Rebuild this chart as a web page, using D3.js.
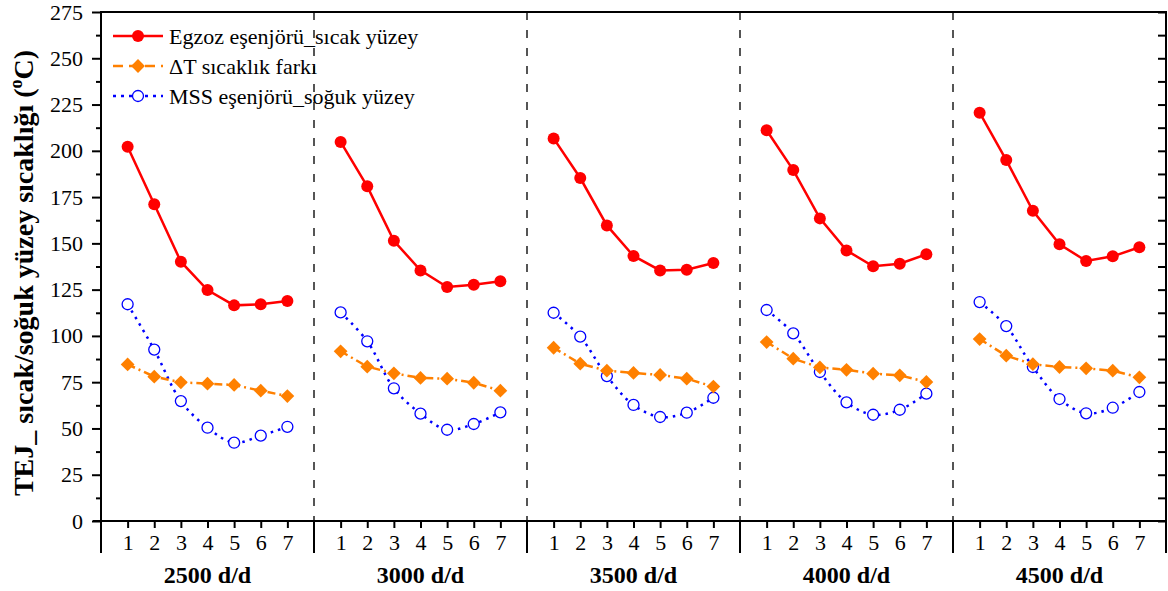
<!DOCTYPE html>
<html>
<head>
<meta charset="utf-8">
<script src="https://cdn.jsdelivr.net/npm/d3@7"></script>
<style>
  body { margin: 0; background: #fff; }
  svg { display: block; }
  text { font-family: "Times New Roman", "Liberation Serif", serif; }
</style>
</head>
<body>
<svg id="chart" width="1168" height="591"></svg>
<script>
// ---- data ----
const groups = ["2500 d/d", "3000 d/d", "3500 d/d", "4000 d/d", "4500 d/d"];
const points = [1, 2, 3, 4, 5, 6, 7];
const seriesNames = ["Egzoz eşenjörü_sıcak yüzey", "ΔT sıcaklık farkı", "MSS eşenjörü_soğuk yüzey"];
const hotSurface = [
  [202.2, 171.1, 140.1, 124.8, 116.5, 117.1, 118.9],
  [204.8, 180.8, 151.4, 135.4, 126.4, 127.7, 129.5],
  [206.7, 185.3, 159.7, 143.2, 135.4, 135.8, 139.4],
  [211.1, 189.6, 163.5, 146.2, 137.6, 139.0, 144.1],
  [220.6, 195.0, 167.6, 149.5, 140.5, 143.0, 147.9]
];
const deltaT = [
  [84.6, 78.0, 74.9, 74.2, 73.5, 70.4, 67.5],
  [91.7, 83.4, 79.8, 77.3, 76.9, 74.7, 70.4],
  [93.6, 85.0, 81.2, 80.0, 78.9, 76.9, 72.6],
  [96.7, 87.7, 83.0, 81.7, 79.6, 78.7, 75.1],
  [98.3, 89.3, 84.7, 83.2, 82.5, 81.2, 77.6]
];
const coldSurface = [
  [117.1, 92.6, 64.8, 50.4, 42.3, 46.1, 50.9],
  [112.7, 97.1, 71.7, 58.0, 49.3, 52.4, 58.7],
  [112.5, 99.6, 78.3, 62.7, 56.2, 58.5, 66.6],
  [114.0, 101.4, 80.5, 64.1, 57.4, 60.1, 68.8],
  [118.3, 105.3, 83.2, 65.9, 58.2, 61.2, 69.7]
];
const yTicks = [0, 25, 50, 75, 100, 125, 150, 175, 200, 225, 250, 275];
const yTitle = "TEJ_ sıcak/soğuk yüzey sıcaklığı (";

// ---- layout ----
const svg = d3.select("#chart");
const pLeft = 101, pRight = 1166, pTop = 12, pBottom = 521, pBelow = 553;
const slots = points.length + 1;
const x = d3.scaleLinear().domain([0, groups.length * slots]).range([pLeft, pRight]);
const y = d3.scaleLinear().domain([0, 275]).range([pBottom, pTop]);
const pos = (g, i) => g * slots + points[i];

// group dividers
for (let g = 1; g < groups.length; g++) {
  const gx = x(g * slots);
  svg.append("line").attr("x1", gx).attr("x2", gx).attr("y1", pTop).attr("y2", pBottom)
    .attr("stroke", "#555").attr("stroke-width", 2).attr("stroke-dasharray", "8,10");
  svg.append("line").attr("x1", gx).attr("x2", gx).attr("y1", pBottom).attr("y2", pBelow)
    .attr("stroke", "#000").attr("stroke-width", 2);
}

// frame
svg.append("line").attr("x1", pLeft).attr("x2", pRight).attr("y1", pTop).attr("y2", pTop).attr("stroke", "#000").attr("stroke-width", 2);
svg.append("line").attr("x1", pLeft).attr("x2", pLeft).attr("y1", pTop - 1).attr("y2", pBelow).attr("stroke", "#000").attr("stroke-width", 2);
svg.append("line").attr("x1", pRight).attr("x2", pRight).attr("y1", pTop - 1).attr("y2", pBelow).attr("stroke", "#000").attr("stroke-width", 2);
svg.append("line").attr("x1", pLeft - 8).attr("x2", pRight).attr("y1", pBottom).attr("y2", pBottom).attr("stroke", "#000").attr("stroke-width", 2);

// y axis (left)
const minorVals = d3.range(12.5, 275, 25);
const yAx = svg.append("g").attr("transform", `translate(${pLeft},0)`)
  .call(d3.axisLeft(y).tickValues(yTicks).tickSize(9).tickPadding(9));
yAx.select(".domain").remove();
yAx.selectAll("line").attr("stroke-width", 2);
yAx.selectAll("text").attr("font-size", 22).attr("font-family", "Times New Roman, Liberation Serif, serif").attr("fill", "#000");
const yMin = svg.append("g").attr("transform", `translate(${pLeft},0)`)
  .call(d3.axisLeft(y).tickValues(minorVals).tickSize(5).tickFormat(""));
yMin.select(".domain").remove();
yMin.selectAll("line").attr("stroke-width", 2);

// y axis (right, inward ticks)
const yR = svg.append("g").attr("transform", `translate(${pRight},0)`)
  .call(d3.axisLeft(y).tickValues(yTicks.concat(minorVals)).tickSize(8).tickFormat(""));
yR.select(".domain").remove();
yR.selectAll("line").attr("stroke-width", 2);

// x axis ticks
const xVals = [];
groups.forEach((gname, g) => points.forEach((p, i) => xVals.push(pos(g, i))));
const xAx = svg.append("g").attr("transform", `translate(0,${pBottom})`)
  .call(d3.axisBottom(x).tickValues(xVals).tickSize(7).tickPadding(6)
    .tickFormat(v => String(v % slots)));
xAx.select(".domain").remove();
xAx.selectAll("line").attr("stroke-width", 2);
xAx.selectAll("text").attr("font-size", 22).attr("font-family", "Times New Roman, Liberation Serif, serif").attr("fill", "#000");

// group labels
svg.selectAll(".glabel").data(groups).enter().append("text")
  .attr("x", (d, g) => x(g * slots + slots / 2))
  .attr("y", 583)
  .attr("text-anchor", "middle")
  .attr("font-size", 24).attr("font-weight", "bold")
  .text(d => d);

// y title
const yt = svg.append("text")
  .attr("transform", `translate(33,273) rotate(-90)`)
  .attr("text-anchor", "middle")
  .attr("font-size", 28).attr("font-weight", "bold");
yt.append("tspan").text(yTitle);
yt.append("tspan").attr("font-size", 18).attr("dy", -11).text("o");
yt.append("tspan").attr("dy", 11).text("C)");

// series
const red = "#ff0000", orange = "#ff8000", blue = "#0000ff";
const lineGen = d3.line().x(d => x(d[0])).y(d => y(d[1]));
const smoothGen = d3.line().x(d => x(d[0])).y(d => y(d[1])).curve(d3.curveCatmullRom.alpha(0.5));
const square = d3.symbol().type(d3.symbolSquare).size(95);

function drawSeries(data, color, dash, gen, marker) {
  data.forEach((vals, g) => {
    const pts = vals.map((v, i) => [pos(g, i), v]);
    svg.append("path").datum(pts).attr("d", gen).attr("fill", "none")
      .attr("stroke", color).attr("stroke-width", 2.5)
      .attr("stroke-dasharray", dash);
    const m = svg.append("g");
    pts.forEach(p => marker(m, x(p[0]), y(p[1])));
  });
}
const circleFilled = (c) => (m, cx, cy) => m.append("circle").attr("cx", cx).attr("cy", cy).attr("r", 6).attr("fill", c);
const circleOpen = (c) => (m, cx, cy) => m.append("circle").attr("cx", cx).attr("cy", cy).attr("r", 5.5).attr("fill", "#fff").attr("stroke", c).attr("stroke-width", 1.3);
const diamondMk = (c) => (m, cx, cy) => m.append("path").attr("d", square).attr("transform", `translate(${cx},${cy}) rotate(45)`).attr("fill", c);

drawSeries(coldSurface, blue, "2.5,5", smoothGen, circleOpen(blue));
drawSeries(deltaT, orange, "8,4,2,4", lineGen, diamondMk(orange));
drawSeries(hotSurface, red, null, lineGen, circleFilled(red));

// legend
const legend = [
  { name: seriesNames[0], color: red, dash: null, mk: circleFilled(red) },
  { name: seriesNames[1], color: orange, dash: "10,6", mk: diamondMk(orange) },
  { name: seriesNames[2], color: blue, dash: "3,5", mk: circleOpen(blue) }
];
legend.forEach((l, i) => {
  const ly = 36 + i * 30;
  svg.append("line").attr("x1", 113).attr("x2", 163).attr("y1", ly).attr("y2", ly)
    .attr("stroke", l.color).attr("stroke-width", 2.5).attr("stroke-dasharray", l.dash);
  l.mk(svg, 138, ly);
  svg.append("text").attr("x", 169).attr("y", ly).attr("dy", "0.35em")
    .attr("font-size", 22).text(l.name);
});
</script>
</body>
</html>
